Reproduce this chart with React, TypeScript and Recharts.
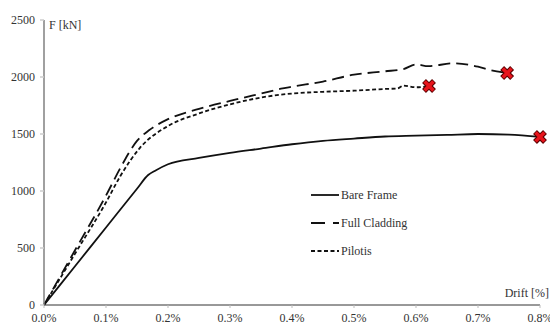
import {
  ComposedChart,
  Line,
  Scatter,
  XAxis,
  YAxis,
  Legend,
} from "recharts";

// drift [%] / force [kN]
const bareDrift = [0, 0.05, 0.1, 0.15, 0.168, 0.18, 0.2, 0.25, 0.3, 0.35, 0.4, 0.45, 0.5, 0.55, 0.6, 0.65, 0.7, 0.75, 0.8];
const bareForce = [0, 340, 680, 1020, 1140, 1180, 1235, 1290, 1335, 1372, 1410, 1440, 1460, 1478, 1485, 1492, 1500, 1495, 1474];

const claddingDrift = [0, 0.05, 0.1, 0.125, 0.15, 0.17, 0.2, 0.25, 0.3, 0.35, 0.385, 0.4, 0.45, 0.5, 0.55, 0.58, 0.6, 0.62, 0.66, 0.7, 0.72, 0.747];
const claddingForce = [0, 480, 960, 1220, 1440, 1535, 1630, 1720, 1790, 1855, 1900, 1915, 1960, 2020, 2050, 2070, 2110, 2095, 2120, 2090, 2060, 2035];

const pilotisDrift = [0, 0.05, 0.1, 0.123, 0.155, 0.2, 0.25, 0.3, 0.35, 0.4, 0.45, 0.5, 0.55, 0.57, 0.58, 0.6, 0.621];
const pilotisForce = [0, 450, 900, 1130, 1380, 1570, 1680, 1760, 1820, 1855, 1870, 1880, 1895, 1900, 1925, 1910, 1921];

const xTicks = [0, 0.1, 0.2, 0.3, 0.4, 0.5, 0.6, 0.7, 0.8];
const yTicks = [0, 500, 1000, 1500, 2000, 2500];

const seriesNames = ["Bare Frame", "Full Cladding", "Pilotis"];
const dashes = ["", "12 6", "4 2.5"];
const legendDashes = ["", "14 8", "4 2.5"];

const toPoints = (xs: number[], ys: number[]) => xs.map((x, i) => ({ x, y: ys[i] }));

const series = [
  toPoints(bareDrift, bareForce),
  toPoints(claddingDrift, claddingForce),
  toPoints(pilotisDrift, pilotisForce),
];

// failure points = last point of each curve
const failures = series.map((s) => s[s.length - 1]);

const font =
  "'Liberation Serif', 'DejaVu Serif', 'Noto Serif', 'Times New Roman', Times, Tinos, FreeSerif, serif";
const tickStyle = { fill: "#333", fontSize: 12, fontFamily: font };

function Cross(props: any) {
  const { cx, cy } = props;
  const s = 5;
  return (
    <g>
      <line x1={cx - s} y1={cy - s} x2={cx + s} y2={cy + s} stroke="#5a0000" strokeWidth={5.5} />
      <line x1={cx - s} y1={cy + s} x2={cx + s} y2={cy - s} stroke="#5a0000" strokeWidth={5.5} />
      <line x1={cx - s + 0.6} y1={cy - s + 0.6} x2={cx + s - 0.6} y2={cy + s - 0.6} stroke="#e8141c" strokeWidth={3.5} />
      <line x1={cx - s + 0.6} y1={cy + s - 0.6} x2={cx + s - 0.6} y2={cy - s + 0.6} stroke="#e8141c" strokeWidth={3.5} />
    </g>
  );
}

function LegendBox({ payload }: any) {
  const items = (payload || []).filter((p: any) => seriesNames.includes(p.value));
  return (
    <div style={{ fontFamily: font, fontSize: 12, color: "#333" }}>
      {items.map((p: any) => {
        const i = seriesNames.indexOf(p.value);
        return (
          <div key={p.value} style={{ height: 28, display: "flex", alignItems: "center" }}>
            <svg width={29} height={10} style={{ marginRight: 1 }}>
              <line x1={0} y1={5} x2={28} y2={5} stroke="#111" strokeWidth={1.8} strokeDasharray={legendDashes[i]} />
            </svg>
            <span>{p.value}</span>
          </div>
        );
      })}
    </div>
  );
}

export default function App() {
  return (
    <div style={{ position: "absolute", left: 0, top: 0, background: "#fff", fontFamily: font }}>
      <ComposedChart width={550} height={325} margin={{ top: 20, right: 10, bottom: 0, left: 0 }}>
        <XAxis
          type="number"
          dataKey="x"
          domain={[0, 0.8]}
          ticks={xTicks}
          tickFormatter={(v: number) => `${v.toFixed(1)}%`}
          tick={tickStyle}
          tickSize={3}
          tickMargin={5}
          height={20}
          interval={0}
          stroke="#333"
          tickLine={{ stroke: "#bbb" }}
          label={{
            content: (p: any) => (
              <text
                x={p.viewBox.x + p.viewBox.width + 9}
                y={p.viewBox.y - 8}
                textAnchor="end"
                fontFamily={font}
                fontSize={12}
                fill="#333"
              >
                Drift [%]
              </text>
            ),
          }}
        />
        <YAxis
          type="number"
          domain={[0, 2500]}
          ticks={yTicks}
          tick={tickStyle}
          tickSize={4}
          tickMargin={5}
          width={44}
          interval={0}
          stroke="#808080"
          strokeWidth={1.5}
          tickLine={{ stroke: "#ccc" }}
          label={{
            content: (p: any) => (
              <text
                x={p.viewBox.x + p.viewBox.width + 5}
                y={p.viewBox.y + 9}
                fontFamily={font}
                fontSize={12}
                fill="#333"
              >
                F [kN]
              </text>
            ),
          }}
        />
        <Legend
          layout="vertical"
          align="center"
          verticalAlign="middle"
          content={<LegendBox />}
          wrapperStyle={{ left: 311, top: 181, width: 120 }}
        />
        {series.map((data, i) => (
          <Line
            key={seriesNames[i]}
            name={seriesNames[i]}
            data={data}
            dataKey="y"
            type="monotone"
            stroke="#111"
            strokeWidth={1.8}
            strokeDasharray={dashes[i] || undefined}
            dot={false}
            activeDot={false}
            isAnimationActive={false}
          />
        ))}
        <Scatter
          name="failure"
          data={failures}
          dataKey="y"
          shape={<Cross />}
          legendType="none"
          isAnimationActive={false}
        />
      </ComposedChart>
    </div>
  );
}
